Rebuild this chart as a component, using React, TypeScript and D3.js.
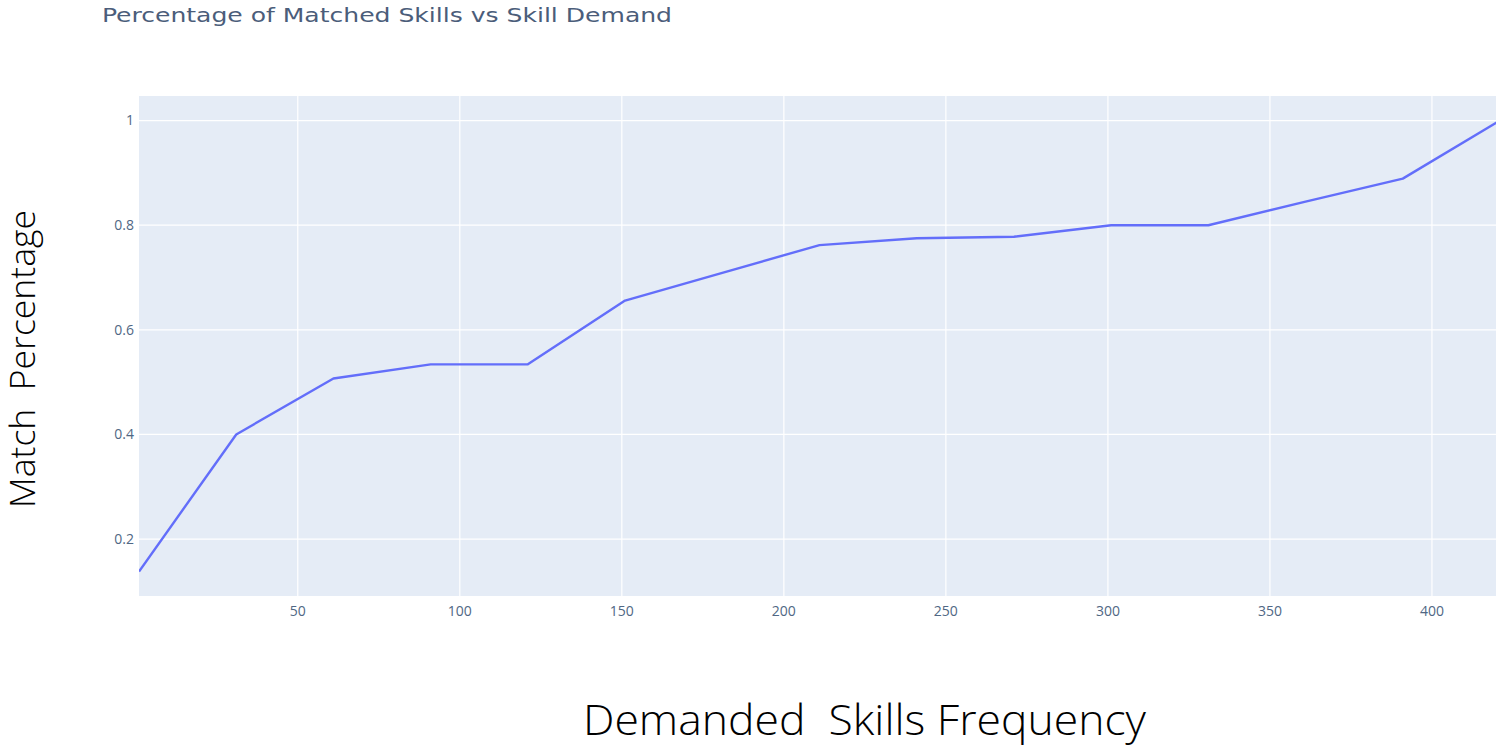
import React from "react";
import * as d3 from "d3";

const frequency = [1, 31, 61, 91, 121, 151, 181, 211, 241, 271, 301, 331, 361, 391, 421];
const matchPct = [0.138, 0.4, 0.507, 0.534, 0.534, 0.656, 0.709, 0.762, 0.775, 0.778, 0.8, 0.8, 0.845, 0.889, 1.0];
const xTicks = [50, 100, 150, 200, 250, 300, 350, 400];
const yTicks = [0.2, 0.4, 0.6, 0.8, 1];
const yTickLabels = ["0.2", "0.4", "0.6", "0.8", "1"];

const W = 1496;
const H = 746;
const left = 139;
const top = 96;
const bottom = 596;
const right = 1500;

export default function App() {
  const x = d3.scaleLinear().domain([1, 421]).range([left, right]);
  const y = d3.scaleLinear().domain([0.0912, 1.047]).range([bottom, top]);
  const line = d3
    .line<number>()
    .x((_, i) => x(frequency[i]))
    .y((d) => y(d));
  const tickColor = "#506784";
  return (
    <svg
      width={W}
      height={H}
      style={{ position: "absolute", left: 0, top: 0, background: "#fff" }}
    >
      <defs>
        <clipPath id="plotclip">
          <rect x={left} y={top} width={right - left} height={bottom - top} />
        </clipPath>
      </defs>
      <rect x={left} y={top} width={right - left} height={bottom - top} fill="#E5ECF6" />
      {xTicks.map((t) => (
        <line key={"gx" + t} x1={x(t)} x2={x(t)} y1={top} y2={bottom} stroke="#fff" strokeWidth={1.2} />
      ))}
      {yTicks.map((t) => (
        <line key={"gy" + t} x1={left} x2={right} y1={y(t)} y2={y(t)} stroke="#fff" strokeWidth={1.2} />
      ))}
      <path
        d={line(matchPct) || ""}
        fill="none"
        stroke="#636efa"
        strokeWidth={2.4}
        strokeLinejoin="round"
        clipPath="url(#plotclip)"
      />
      {xTicks.map((t) => (
        <text
          key={"tx" + t}
          x={x(t)}
          y={616}
          textAnchor="middle"
          fontFamily="'Open Sans', sans-serif"
          fontSize={14}
          fill={tickColor}
        >
          {t}
        </text>
      ))}
      {yTicks.map((t, i) => (
        <text
          key={"ty" + t}
          x={134}
          y={y(t)}
          dy="0.35em"
          textAnchor="end"
          fontFamily="'Open Sans', sans-serif"
          fontSize={14}
          fill={tickColor}
        >
          {yTickLabels[i]}
        </text>
      ))}
      <text
        x={102}
        y={22}
        fontFamily="'DejaVu Sans Condensed', 'DejaVu Sans', sans-serif"
        fontSize={20}
        fill="#4b5d7a"
        textLength={570}
        lengthAdjust="spacingAndGlyphs"
      >
        Percentage of Matched Skills vs Skill Demand
      </text>
      <text
        x={583}
        y={735}
        fontFamily="'Open Sans', sans-serif"
        fontWeight={300}
        fontSize={42}
        fill="#000"
        style={{ whiteSpace: "pre" }}
        textLength={563}
        lengthAdjust="spacingAndGlyphs"
      >
        {"Demanded  Skills Frequency"}
      </text>
      <text
        transform="translate(35,508) rotate(-90)"
        x={0}
        y={0}
        fontFamily="'Open Sans', sans-serif"
        fontWeight={300}
        fontSize={34}
        fill="#000"
        style={{ whiteSpace: "pre" }}
        textLength={298}
        lengthAdjust="spacingAndGlyphs"
      >
        {"Match  Percentage"}
      </text>
    </svg>
  );
}
